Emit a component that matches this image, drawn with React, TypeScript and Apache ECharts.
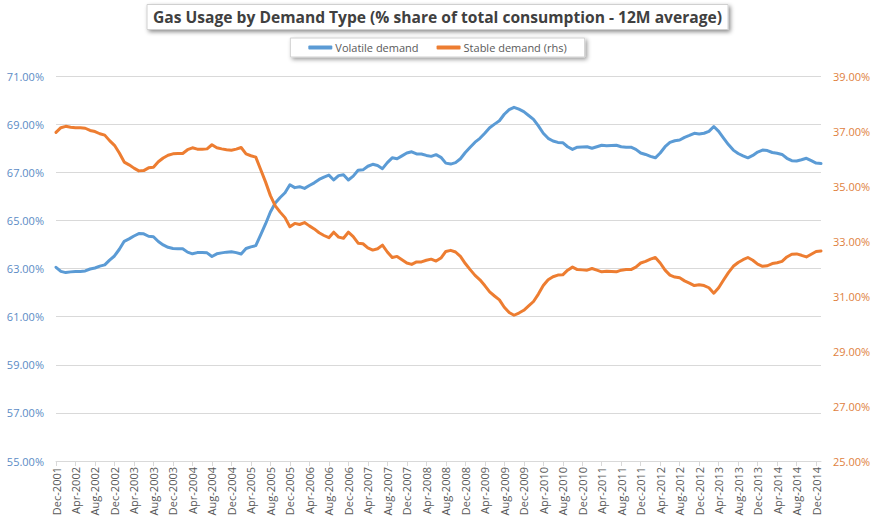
import React, { useEffect, useRef } from "react";
import * as echarts from "echarts";

const MONTHS = ["Jan", "Feb", "Mar", "Apr", "May", "Jun", "Jul", "Aug", "Sep", "Oct", "Nov", "Dec"];
const START_YEAR = 2001;
const START_MONTH = 11; // Dec
const N_POINTS = 158; // Dec-2001 .. Jan-2015

const categories: string[] = [];
for (let k = 0; k < N_POINTS; k++) {
  const m = START_MONTH + k;
  categories.push(MONTHS[m % 12] + "-" + (START_YEAR + Math.floor(m / 12)));
}

const volatileDemand = [
  63.05, 62.88, 62.83, 62.86, 62.88, 62.88, 62.9, 62.98, 63.02, 63.1,
  63.15, 63.35, 63.52, 63.8, 64.13, 64.23, 64.35, 64.45, 64.44, 64.34,
  64.32, 64.12, 63.98, 63.88, 63.83, 63.82, 63.82, 63.68, 63.61, 63.66,
  63.66, 63.65, 63.5, 63.61, 63.65, 63.68, 63.7, 63.66, 63.6, 63.83,
  63.9, 63.95, 64.4, 64.85, 65.35, 65.72, 65.95, 66.15, 66.48, 66.36,
  66.4, 66.33, 66.45, 66.56, 66.7, 66.8, 66.88, 66.68, 66.86, 66.9,
  66.68, 66.84, 67.08, 67.1, 67.25, 67.33, 67.28, 67.15, 67.4, 67.6,
  67.56, 67.68, 67.8, 67.85, 67.76, 67.76, 67.7, 67.66, 67.73, 67.62,
  67.38, 67.34, 67.4, 67.56, 67.82, 68.04, 68.25, 68.41, 68.62, 68.85,
  69.0, 69.14, 69.41, 69.6, 69.7, 69.62, 69.52, 69.36, 69.2, 68.93,
  68.62, 68.41, 68.3, 68.24, 68.23, 68.06, 67.95, 68.04, 68.05, 68.06,
  68.0, 68.06, 68.12, 68.1, 68.11, 68.12, 68.06, 68.04, 68.04, 67.95,
  67.8, 67.74, 67.66, 67.6, 67.8, 68.06, 68.24, 68.31, 68.34, 68.45,
  68.53, 68.62, 68.59, 68.62, 68.7, 68.9, 68.7, 68.42, 68.15, 67.92,
  67.78, 67.68, 67.6, 67.7, 67.84, 67.92, 67.9, 67.82, 67.79, 67.74,
  67.58, 67.48, 67.47, 67.52, 67.58, 67.48, 67.38, 67.36,
];

const stableDemand = [
  36.95, 37.12, 37.17, 37.14, 37.12, 37.12, 37.1, 37.02, 36.98, 36.9,
  36.85, 36.65, 36.48, 36.2, 35.87, 35.77, 35.65, 35.55, 35.56, 35.66,
  35.68, 35.88, 36.02, 36.12, 36.17, 36.18, 36.18, 36.32, 36.39, 36.34,
  36.34, 36.35, 36.5, 36.39, 36.35, 36.32, 36.3, 36.34, 36.4, 36.17,
  36.1, 36.05, 35.6, 35.15, 34.65, 34.28, 34.05, 33.85, 33.52, 33.64,
  33.6, 33.67, 33.55, 33.44, 33.3, 33.2, 33.12, 33.32, 33.14, 33.1,
  33.32, 33.16, 32.92, 32.9, 32.75, 32.67, 32.72, 32.85, 32.6, 32.4,
  32.44, 32.32, 32.2, 32.15, 32.24, 32.24, 32.3, 32.34, 32.27, 32.38,
  32.62, 32.66, 32.6, 32.44, 32.18, 31.96, 31.75, 31.59, 31.38, 31.15,
  31.0, 30.86, 30.59, 30.4, 30.3, 30.38, 30.48, 30.64, 30.8, 31.07,
  31.38, 31.59, 31.7, 31.76, 31.77, 31.94, 32.05, 31.96, 31.95, 31.94,
  32.0, 31.94, 31.88, 31.9, 31.89, 31.88, 31.94, 31.96, 31.96, 32.05,
  32.2, 32.26, 32.34, 32.4, 32.2, 31.94, 31.76, 31.69, 31.66, 31.55,
  31.47, 31.38, 31.41, 31.38, 31.3, 31.1, 31.3, 31.58, 31.85, 32.08,
  32.22, 32.32, 32.4, 32.3, 32.16, 32.08, 32.1, 32.18, 32.21, 32.26,
  32.42, 32.52, 32.53, 32.48, 32.42, 32.52, 32.62, 32.64,
];

const LEFT_AXIS = { min: 55, max: 71, interval: 2 };
const RIGHT_AXIS = { min: 25, max: 39, interval: 2 };

const FONT = "'Open Sans', 'Noto Sans', sans-serif";

export default function App() {
  const ref = useRef<HTMLDivElement>(null);

  useEffect(() => {
    if (!ref.current) return;
    const chart = echarts.init(ref.current, undefined, { renderer: "svg" });
    const pct = (v: number) => v.toFixed(2) + "%";
    chart.setOption({
      animation: false,
      backgroundColor: "#ffffff",
      textStyle: { fontFamily: FONT },
      title: {
        text: "Gas Usage by Demand Type (% share of total consumption - 12M average)",
        left: "center",
        top: 4,
        padding: [5, 6, 5, 6],
        borderColor: "#d0d0d0",
        borderWidth: 1,
        backgroundColor: "#ffffff",
        shadowBlur: 4,
        shadowOffsetX: 2,
        shadowOffsetY: 2,
        shadowColor: "rgba(0,0,0,0.45)",
        textStyle: {
          fontFamily: FONT,
          fontSize: 15.6,
          fontWeight: "bold",
          color: "#404040",
        },
      },
      legend: {
        top: 38,
        left: "center",
        padding: [4, 18, 4, 18],
        itemGap: 18,
        itemWidth: 24,
        itemHeight: 4,
        icon: "roundRect",
        borderColor: "#d0d0d0",
        borderWidth: 1,
        backgroundColor: "#ffffff",
        shadowBlur: 4,
        shadowOffsetX: 2,
        shadowOffsetY: 2,
        shadowColor: "rgba(0,0,0,0.4)",
        textStyle: { fontFamily: FONT, fontSize: 11, color: "#595959", padding: [0, 0, 0, -2] },
        data: ["Volatile demand", "Stable demand (rhs)"],
      },
      grid: { left: 56, right: 54, top: 76, bottom: 61, containLabel: false, outerBoundsMode: "none" },
      xAxis: {
        type: "category",
        data: categories,
        boundaryGap: false,
        axisLine: { lineStyle: { color: "#d9d9d9", width: 1 } },
        axisTick: { show: true, interval: 3, length: 5, lineStyle: { color: "#d9d9d9" } },
        axisLabel: {
          interval: 3,
          rotate: 90,
          margin: 6,
          fontSize: 11,
          fontFamily: FONT,
          color: "#595959",
        },
        splitLine: { show: false },
      },
      yAxis: [
        {
          type: "value",
          min: LEFT_AXIS.min,
          max: LEFT_AXIS.max,
          interval: LEFT_AXIS.interval,
          axisLine: { show: false },
          axisTick: { show: false },
          axisLabel: { formatter: pct, fontSize: 11, fontFamily: FONT, color: "#5B8BC5", margin: 12 },
          splitLine: { lineStyle: { color: "#d9d9d9", width: 1 } },
        },
        {
          type: "value",
          position: "right",
          min: RIGHT_AXIS.min,
          max: RIGHT_AXIS.max,
          interval: RIGHT_AXIS.interval,
          axisLine: { show: false },
          axisTick: { show: false },
          axisLabel: { formatter: pct, fontSize: 11, fontFamily: FONT, color: "#E0813E", margin: 12 },
          splitLine: { show: false },
        },
      ],
      series: [
        {
          name: "Volatile demand",
          type: "line",
          yAxisIndex: 0,
          data: volatileDemand,
          symbol: "none",
          color: "#5B9BD5",
          lineStyle: { width: 3, color: "#5B9BD5", cap: "round", join: "round" },
        },
        {
          name: "Stable demand (rhs)",
          type: "line",
          yAxisIndex: 1,
          data: stableDemand,
          symbol: "none",
          color: "#ED7D31",
          lineStyle: { width: 3, color: "#ED7D31", cap: "round", join: "round" },
        },
      ],
    });
    return () => chart.dispose();
  }, []);

  return (
    <div
      ref={ref}
      style={{ position: "fixed", left: 0, top: 0, width: 875, height: 522, background: "#fff" }}
    />
  );
}
